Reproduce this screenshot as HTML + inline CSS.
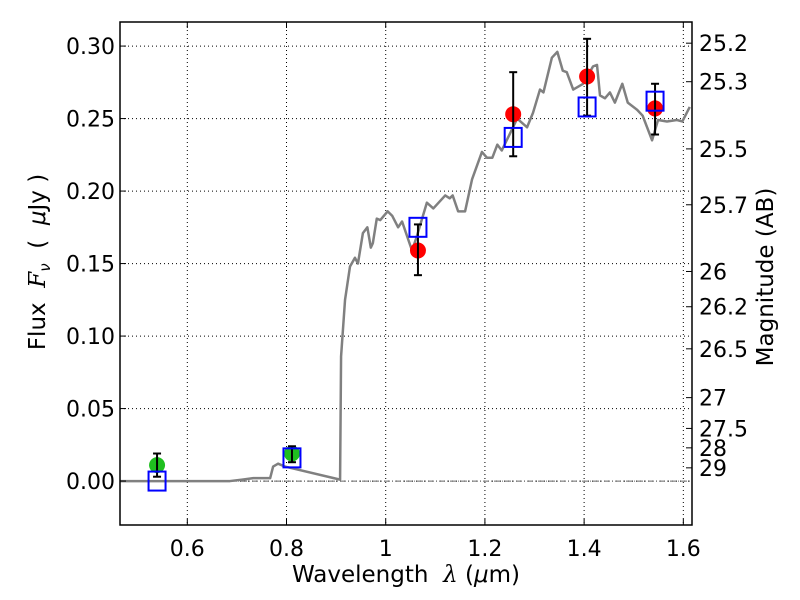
<!DOCTYPE html>
<html><head><meta charset="utf-8"><style>
body{margin:0;background:#fff;}
svg{display:block;font-family:"DejaVu Sans","Liberation Sans",sans-serif;}
text{white-space:pre;}
</style></head><body>
<svg id="chart" width="800" height="600" xmlns="http://www.w3.org/2000/svg"></svg>
<script>
const specLam=[0.464,0.625,0.686,0.711,0.733,0.767,0.773,0.783,0.797,0.908,0.910,0.918,0.928,0.938,0.944,0.954,0.963,0.970,0.974,0.982,0.989,1.004,1.013,1.025,1.033,1.041,1.053,1.062,1.083,1.096,1.120,1.129,1.135,1.146,1.160,1.174,1.194,1.204,1.215,1.225,1.234,1.251,1.265,1.285,1.297,1.311,1.318,1.335,1.346,1.357,1.365,1.378,1.398,1.418,1.426,1.432,1.442,1.452,1.462,1.477,1.488,1.507,1.518,1.537,1.549,1.567,1.587,1.598,1.613];
const specFlux=[0.000,0.000,0.000,0.001,0.002,0.002,0.010,0.012,0.010,0.001,0.086,0.125,0.148,0.154,0.150,0.171,0.175,0.161,0.164,0.181,0.180,0.186,0.183,0.175,0.179,0.171,0.159,0.168,0.192,0.188,0.197,0.195,0.197,0.186,0.186,0.208,0.227,0.223,0.223,0.232,0.228,0.240,0.250,0.244,0.254,0.270,0.268,0.292,0.296,0.283,0.282,0.270,0.274,0.286,0.287,0.266,0.264,0.268,0.261,0.274,0.261,0.256,0.252,0.235,0.249,0.248,0.249,0.248,0.258];
const redLam=[1.065,1.257,1.406,1.543];
const redFlux=[0.159,0.253,0.279,0.257];
const redLo=[0.142,0.224,0.252,0.239];
const redHi=[0.177,0.282,0.305,0.274];
const greenLam=[0.539,0.811];
const greenFlux=[0.011,0.019];
const greenLo=[0.003,0.013];
const greenHi=[0.019,0.024];
const blueLam=[0.539,0.811,1.065,1.257,1.406,1.543];
const blueFlux=[0.000,0.016,0.175,0.237,0.258,0.262];
const xTicks=[0.6,0.8,1.0,1.2,1.4,1.6];
const xTickLabels=["0.6","0.8","1","1.2","1.4","1.6"];
const yTicks=[0,0.05,0.10,0.15,0.20,0.25,0.30];
const yTickLabels=["0.00","0.05","0.10","0.15","0.20","0.25","0.30"];
const magTicks=[25.2,25.3,25.5,25.7,26,26.2,26.5,27,27.5,28,29];

const L=120,R=692,T=22,B=525;
const X0=0.4643,X1=1.6175,Y0=-0.0303,Y1=0.3166;
const sx=v=>L+(v-X0)/(X1-X0)*(R-L);
const sy=v=>B-(v-Y0)/(Y1-Y0)*(B-T);
const svg=document.getElementById('chart');
const NS='http://www.w3.org/2000/svg';
function mk(tag,attrs,parent){const e=document.createElementNS(NS,tag);for(const k in attrs)e.setAttribute(k,attrs[k]);(parent||svg).appendChild(e);return e;}

xTicks.forEach((t,i)=>{const g=mk('line',{x1:sx(t),x2:sx(t),y1:T,y2:B,stroke:'#000','stroke-width':1,'stroke-dasharray':'1,3'});

});
yTicks.forEach((t,i)=>{const g=mk('line',{x1:L,x2:R,y1:sy(t),y2:sy(t),stroke:'#000','stroke-width':1,'stroke-dasharray':'1,3'});

});
const z=mk('line',{x1:L,x2:R,y1:sy(0),y2:sy(0),stroke:'#666','stroke-width':1,'stroke-dasharray':'6,2,1,2'});



const sp=mk('polyline',{points:specLam.map((l,i)=>sx(l)+','+sy(specFlux[i])).join(' '),fill:'none',stroke:'#808080','stroke-width':2.5,'stroke-linejoin':'round'});



function errbar(l,lo,hi){const gx=sx(l);
mk('line',{x1:gx,x2:gx,y1:sy(lo),y2:sy(hi),stroke:'#000','stroke-width':2});
mk('line',{x1:gx-4,x2:gx+4,y1:sy(lo),y2:sy(lo),stroke:'#000','stroke-width':2});
mk('line',{x1:gx-4,x2:gx+4,y1:sy(hi),y2:sy(hi),stroke:'#000','stroke-width':2});}
greenLam.forEach((l,i)=>{const c=mk('circle',{cx:sx(l),cy:sy(greenFlux[i]),r:8,fill:'#1fbf1f'});


errbar(l,greenLo[i],greenHi[i]);});
redLam.forEach((l,i)=>{const c=mk('circle',{cx:sx(l),cy:sy(redFlux[i]),r:8,fill:'#ff0000'});


errbar(l,redLo[i],redHi[i]);});
blueLam.forEach((l,i)=>{const s=mk('rect',{x:sx(l)-8.5,y:sy(blueFlux[i])-9.5,width:17,height:19,fill:'none',stroke:'#0000ff','stroke-width':2});

});

const fr=mk('rect',{x:L,y:T,width:R-L,height:B-T,fill:'none',stroke:'#000','stroke-width':1.5});



xTicks.forEach((t,i)=>{mk('line',{x1:sx(t),x2:sx(t),y1:B,y2:B-6,stroke:'#000'});mk('line',{x1:sx(t),x2:sx(t),y1:T,y2:T+6,stroke:'#000'});
const tx=mk('text',{x:sx(t),y:B+31,'text-anchor':'middle','font-size':22});tx.textContent=xTickLabels[i];

});
yTicks.forEach((t,i)=>{mk('line',{x1:L,x2:L+6,y1:sy(t),y2:sy(t),stroke:'#000'});
const tx=mk('text',{x:L-5,y:sy(t)+8,'text-anchor':'end','font-size':22});tx.textContent=yTickLabels[i];

});
magTicks.forEach((m,i)=>{const f=Math.pow(10,(23.9-m)/2.5);const y=sy(f);
mk('line',{x1:R,x2:R-6,y1:y,y2:y,stroke:'#000'});
const tx=mk('text',{x:R+7,y:y+8,'font-size':22});tx.textContent=String(m);

});

const xl=mk('text',{x:406,y:582,'text-anchor':'middle','font-size':23});
xl.innerHTML='Wavelength  <tspan font-style="italic" font-family="DejaVu Serif,serif">λ</tspan> (<tspan font-style="italic">μ</tspan>m)';


const yl=mk('text',{x:0,y:0,'text-anchor':'middle','font-size':23,transform:'translate(45,262) rotate(-90)'});
yl.innerHTML='Flux  <tspan font-style="italic" font-family="DejaVu Serif,serif">F</tspan><tspan font-style="italic" font-size="15" dy="5">ν</tspan><tspan dy="-5">  (  </tspan><tspan font-style="italic">μ</tspan>Jy )';


const rl=mk('text',{x:0,y:0,'text-anchor':'middle','font-size':23,transform:'translate(773,277) rotate(-90)'});
rl.textContent='Magnitude (AB)';


</script>
</body></html>
